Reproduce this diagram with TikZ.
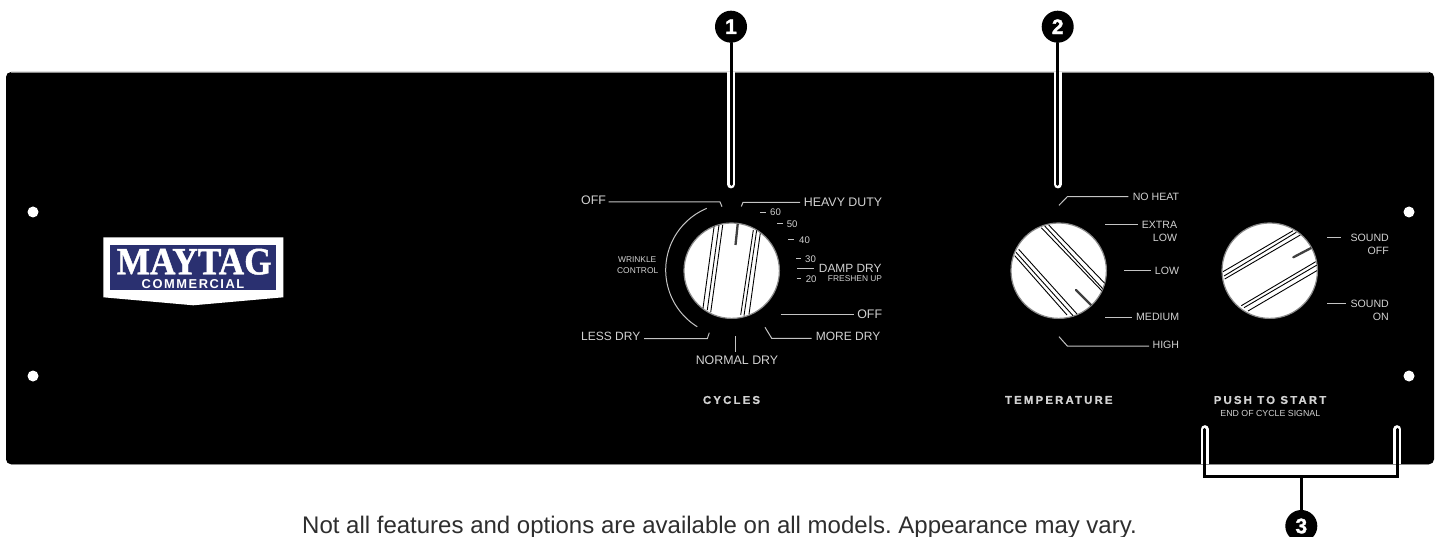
\documentclass[tikz,border=0pt]{standalone}
\usepackage{fontspec}
\usepackage{graphicx}
\setmainfont{Liberation Sans}
\newfontfamily\spacedfont[LetterSpace=19,FakeBold=0.6]{Liberation Sans}
\newfontfamily\logospaced[LetterSpace=12]{Liberation Sans}
\newfontfamily\logoserif[FakeBold=1.2]{Liberation Serif}
\newfontfamily\digitfont[FakeBold=1.5]{Liberation Sans}
\definecolor{txt}{HTML}{D2D2D2}
\definecolor{ldr}{HTML}{C4C4C4}
\definecolor{navy}{HTML}{2A3070}
\definecolor{caption}{HTML}{2E2E2E}
\newcommand{\fs}[1]{\fontsize{#1}{#1}\selectfont}
\tikzset{
  lab/.style={inner sep=0pt,text=txt,font=\fs{12.4}},
  mid/.style={inner sep=0pt,text=txt,font=\fs{10.6}},
  sml/.style={inner sep=0pt,text=txt,font=\fs{9.6}},
  tiny/.style={inner sep=0pt,text=txt,font=\fs{8.4}},
  title/.style={inner sep=0pt,text=txt,font=\fs{11.4}\bfseries\spacedfont},
  leader/.style={draw=ldr,line width=1pt},
  knob/.style={circle,fill=white,draw=ldr!70!black,line width=1.2pt,minimum size=95.4pt,inner sep=0pt},
  stripe/.style={draw=black,line width=0.9pt},
  pointer/.style={draw=black!75,line width=2.3pt,line cap=round},
  hole/.style={circle,fill=white,minimum size=11pt,inner sep=0pt},
  callout/.style={circle,fill=black,minimum size=32pt,inner sep=0pt,text=white,font=\fs{21}\bfseries\digitfont},
  halo/.style={draw=white,line width=8.3pt,line cap=round},
  callline/.style={draw=black,line width=3pt,line cap=round},
}
\begin{document}
\begin{tikzpicture}[x=1pt,y=-1pt]
\useasboundingbox (0,0) rectangle (1435,537);
\clip (0,0) rectangle (1435,537);
\fill[white] (0,0) rectangle (1435,537);
% panel
\fill[black,rounded corners=5pt] (6,72) rectangle (1434,464.3);
\draw[black!45,line width=0.7pt] (11,72.2) -- (1429,72.2);
\draw[black!45,line width=0.7pt] (11,464.1) -- (1429,464.1);
% holes
\node[hole] (h1) at (33,212) {};
\node[hole] (h2) at (33,376) {};
\node[hole] (h3) at (1409,212) {};
\node[hole] (h4) at (1409,376) {};
% logo
\fill[white] (103.3,237.3) -- (283.3,237.3) -- (283.3,297.3) -- (193.3,305.3) -- (103.3,297.3) -- cycle;
\fill[navy] (110,245) rectangle (276,290);
\node[inner sep=0pt,text=white] (maytag) at (194.2,261.7) {\resizebox{155pt}{25.5pt}{\logoserif\bfseries MAYTAG}};
\node[inner sep=0pt,text=white] (commercial) at (193,284.3) {\resizebox{102.6pt}{!}{\fs{11.5}\bfseries\logospaced COMMERCIAL}};
% knobs
\node[knob] (k1) at (731.7,270.7) {};
\node[knob] (k2) at (1058.7,270.7) {};
\node[knob] (k3) at (1269.7,270.7) {};
\begin{scope}
\clip (k1.center) circle (47.4pt);
\draw[stripe] (714.3,225) -- (703,308.3);
\draw[stripe] (719,225) -- (707.3,310);
\draw[stripe] (722.7,225) -- (710.7,312.3);
\draw[stripe] (753.3,230) -- (740.7,315);
\draw[stripe] (756.7,230) -- (744,315.7);
\draw[stripe] (760.3,233) -- (749,314.3);
\draw[pointer,line cap=butt] (737.7,224) -- (735.5,245);
\end{scope}
\begin{scope}
\clip (k2.center) circle (47.4pt);
\draw[stripe] (1041.3,227.7) -- (1102,291);
\draw[stripe] (1044.7,226) -- (1103,289);
\draw[stripe] (1048.7,225) -- (1105.7,284.3);
\draw[stripe] (1014.7,255.7) -- (1067,315);
\draw[stripe] (1016,252.3) -- (1073,315.7);
\draw[stripe] (1018.7,249.3) -- (1077,314);
\draw[pointer] (1076,290) -- (1092,306);
\end{scope}
\begin{scope}
\clip (k3.center) circle (47.4pt);
\draw[stripe] (1223,271.7) -- (1293,230.7);
\draw[stripe] (1224,276) -- (1296.3,232.3);
\draw[stripe] (1224.7,279) -- (1300.3,235);
\draw[stripe] (1241.3,305.7) -- (1315.7,261.7);
\draw[stripe] (1244,307.7) -- (1317,265);
\draw[stripe] (1248,311) -- (1318,270);
\draw[pointer] (1293.3,257.3) -- (1313,247);
\end{scope}
% cycles labels
\node[lab,anchor=west] (lOffA) at (581,200.7) {OFF};
\node[lab,anchor=west] (lHeavy) at (803.7,202) {HEAVY DUTY};
\node[sml,anchor=west] (l60) at (770,212) {60};
\node[sml,anchor=west] (l50) at (786.7,223.7) {50};
\node[sml,anchor=west] (l40) at (799,239.7) {40};
\node[sml,anchor=west] (l30) at (805,259) {30};
\node[sml,anchor=west] (l20) at (805.7,278.7) {20};
\node[lab,anchor=east,font=\fs{11.9}] (lDamp) at (881.7,268.7) {DAMP DRY};
\node[tiny,anchor=east] (lFresh) at (882.3,278.7) {FRESHEN UP};
\node[tiny] (lWr) at (637.2,260) {WRINKLE};
\node[tiny] (lCt) at (637.7,270.3) {CONTROL};
\node[lab,anchor=west,font=\fs{12}] (lLess) at (581,336.7) {LESS DRY};
\node[lab] (lNorm) at (737,360.7) {NORMAL DRY};
\node[lab,anchor=west,font=\fs{12}] (lMore) at (815.7,336.7) {MORE DRY};
\node[lab,anchor=east] (lOffB) at (882.3,314.3) {OFF};
\node[title] (tCycles) at (731.5,400) {CYCLES};
% cycles leaders
\coordinate (a1) at (608.7,202); \coordinate (a2) at (720,202); \coordinate (a3) at (722,206.7);
\draw[leader] (a1) -- (a2) -- (a3);
\coordinate (b1) at (800,202.3); \coordinate (b2) at (743,202.3); \coordinate (b3) at (741.3,206.5);
\draw[leader] (b1) -- (b2) -- (b3);
\coordinate (t6a) at (760,212.3); \coordinate (t6b) at (766,212.3); \draw[leader] (t6a) -- (t6b);
\coordinate (t5a) at (777,223.7); \coordinate (t5b) at (782.7,223.7); \draw[leader] (t5a) -- (t5b);
\coordinate (t4a) at (788.3,239.7); \coordinate (t4b) at (794.3,239.7); \draw[leader] (t4a) -- (t4b);
\coordinate (t3a) at (796.3,259); \coordinate (t3b) at (801,259); \draw[leader] (t3a) -- (t3b);
\coordinate (tda) at (797,268.7); \coordinate (tdb) at (814.3,268.7); \draw[leader] (tda) -- (tdb);
\coordinate (t2a) at (796.7,278.7); \coordinate (t2b) at (801.3,278.7); \draw[leader] (t2a) -- (t2b);
\draw[leader] plot[domain=121.8:247.3,samples=50] ({732.5+66.8*cos(\x)},{270+66.8*sin(\x)});
\coordinate (c1) at (644,338.7); \coordinate (c2) at (707.3,338.7); \coordinate (c3) at (709.3,332.7);
\draw[leader] (c1) -- (c2) -- (c3);
\coordinate (n1) at (735,336); \coordinate (n2) at (735,351.7); \draw[leader] (n1) -- (n2);
\coordinate (m1) at (811.7,338.3); \coordinate (m2) at (771.7,338.3); \coordinate (m3) at (765,327.3);
\draw[leader] (m1) -- (m2) -- (m3);
\coordinate (o1) at (780.7,315); \coordinate (o2) at (854,315); \draw[leader] (o1) -- (o2);
% temperature labels
\node[mid,anchor=east] (lNoHeat) at (1179.3,197) {NO HEAT};
\node[mid,anchor=east] (lExtra) at (1177.3,224.7) {EXTRA};
\node[mid,anchor=east] (lLowB) at (1177.3,238) {LOW};
\node[mid,anchor=east] (lLow) at (1179.3,270.7) {LOW};
\node[mid,anchor=east] (lMed) at (1179.3,317.3) {MEDIUM};
\node[mid,anchor=east] (lHigh) at (1179.3,345) {HIGH};
\node[title] (tTemp) at (1058.8,400) {TEMPERATURE};
\coordinate (p1) at (1128.3,196.7); \coordinate (p2) at (1067.3,196.7); \coordinate (p3) at (1059,205.3);
\draw[leader] (p1) -- (p2) -- (p3);
\coordinate (q1) at (1105,224.3); \coordinate (q2) at (1137.7,224.3); \draw[leader] (q1) -- (q2);
\coordinate (r1) at (1124,270.7); \coordinate (r2) at (1151,270.7); \draw[leader] (r1) -- (r2);
\coordinate (s1) at (1105,317.3); \coordinate (s2) at (1131.7,317.3); \draw[leader] (s1) -- (s2);
\coordinate (u1) at (1149,346); \coordinate (u2) at (1067.3,346); \coordinate (u3) at (1059,336.7);
\draw[leader] (u1) -- (u2) -- (u3);
% sound labels
\node[mid,anchor=east] (lSndA) at (1389,238) {SOUND};
\node[mid,anchor=east] (lOffC) at (1389,251.3) {OFF};
\node[mid,anchor=east] (lSndB) at (1389,304) {SOUND};
\node[mid,anchor=east] (lOn) at (1389,317.3) {ON};
\coordinate (v1) at (1327.3,238); \coordinate (v2) at (1341,238); \draw[leader] (v1) -- (v2);
\coordinate (w1) at (1327.3,304); \coordinate (w2) at (1345.7,304); \draw[leader] (w1) -- (w2);
\node[title] (tPush) at (1270,400) {PUSH TO START};
\node[tiny,font=\fs{8.8}] (tEnd) at (1270.3,413.3) {END OF CYCLE SIGNAL};
% caption
\node[inner sep=0pt,anchor=base west,text=caption,font=\fs{24}\frenchspacing] (note) at (302,533.3) {Not all features and options are available on all models. Appearance may vary.};
% callouts
\coordinate (e1) at (731,184.3);
\coordinate (e1t) at (731,72);
\coordinate (e2) at (1057.7,184.3);
\coordinate (e2t) at (1057.7,72);
\coordinate (bl) at (1204.7,429.3);
\coordinate (blb) at (1204.7,464);
\coordinate (br) at (1397.3,429.3);
\coordinate (brb) at (1397.3,464);
\draw[halo,line cap=butt] (e1t) -- ++(0,6);
\draw[halo] (731,76) -- (e1);
\draw[halo,line cap=butt] (e2t) -- ++(0,6);
\draw[halo] (1057.7,76) -- (e2);
\draw[halo,line cap=butt] (blb) -- ++(0,-6);
\draw[halo] (1204.7,460) -- (bl);
\draw[halo,line cap=butt] (brb) -- ++(0,-6);
\draw[halo] (1397.3,460) -- (br);
\node[callout] (n1c) at (731,26.7) {1};
\node[callout] (n2c) at (1057.7,26.7) {2};
\node[callout] (n3c) at (1301.3,526) {3};
\draw[callline] (n1c) -- (e1);
\draw[callline] (n2c) -- (e2);
\coordinate (bj) at (1301.3,476.7);
\draw[callline,line join=miter] (bl) -- (bl |- bj) -- (br |- bj) -- (br);
\draw[callline,line cap=butt] (bj) -- (n3c);
\end{tikzpicture}
\end{document}
